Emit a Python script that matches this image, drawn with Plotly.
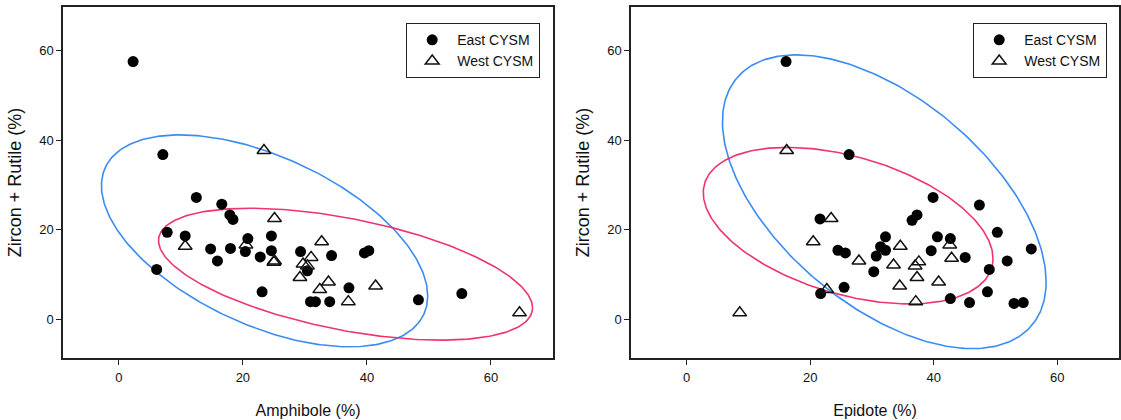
import numpy as np
import plotly.graph_objects as go

# ---------------- data ----------------
# Left panel: Amphibole (%) vs Zircon + Rutile (%)
east_amph_x = [2.3, 7.1, 12.5, 16.6, 17.9, 18.4, 7.8, 10.7, 14.8, 18.0, 20.8, 20.4, 15.9, 22.8,
               24.6, 24.6, 29.3, 30.4, 23.1, 6.1, 30.9, 31.7, 34.0, 34.3, 39.6, 40.3, 37.1, 48.3, 55.3]
east_amph_y = [57.6, 36.8, 27.2, 25.7, 23.3, 22.3, 19.4, 18.6, 15.7, 15.8, 18.0, 15.1, 13.0, 13.9,
               18.6, 15.3, 15.1, 10.8, 6.1, 11.1, 3.9, 3.9, 3.9, 14.2, 14.8, 15.3, 7.0, 4.3, 5.7]
west_amph_x = [23.4, 25.1, 10.7, 20.5, 25.1, 25.0, 32.7, 31.0, 29.7, 30.4, 29.2, 33.8, 32.4, 41.4, 37.0, 64.6]
west_amph_y = [37.7, 22.5, 16.3, 16.6, 13.0, 12.7, 17.3, 13.8, 12.3, 11.9, 9.3, 8.3, 6.6, 7.4, 3.9, 1.4]

# Right panel: Epidote (%) vs Zircon + Rutile (%)
east_epi_x = [16.1, 26.3, 39.9, 47.4, 37.3, 36.5, 21.6, 50.3, 32.2, 40.6, 42.7, 55.8, 24.5, 25.7,
              31.4, 32.2, 30.7, 39.6, 45.1, 51.9, 30.3, 49.0, 25.5, 21.7, 48.7, 42.7, 45.8, 53.0, 54.5]
east_epi_y = [57.6, 36.8, 27.2, 25.5, 23.3, 22.1, 22.4, 19.4, 18.4, 18.4, 18.0, 15.7, 15.4, 14.8,
              16.2, 15.4, 14.1, 15.3, 13.8, 13.0, 10.6, 11.1, 7.1, 5.7, 6.1, 4.6, 3.7, 3.5, 3.7]
west_epi_x = [16.2, 23.4, 20.5, 34.6, 42.6, 42.9, 27.9, 33.5, 37.6, 37.0, 37.3, 34.5, 40.8, 22.7, 37.1, 8.6]
west_epi_y = [37.7, 22.5, 17.3, 16.3, 16.6, 13.6, 13.0, 12.1, 12.8, 11.9, 9.3, 7.4, 8.3, 6.6, 3.9, 1.4]

# Ellipses: [centre x, centre y, half-range x, half-range y, correlation]
ell_amph_east = [23.5, 17.5, 26.3, 23.7, -0.52]
ell_amph_west = [36.55, 10.05, 30.15, 14.75, -0.51]
ell_epi_east = [32.0, 26.25, 26.2, 32.85, -0.545]
ell_epi_west = [26.15, 20.9, 23.45, 17.5, -0.42]

series_names = ["East CYSM", "West CYSM"]
x_titles = ["Amphibole (%)", "Epidote (%)"]
y_title = "Zircon + Rutile (%)"
tick_vals = [0, 20, 40, 60]

# ---------------- styling ----------------
W, H = 1121, 420
FONT = "Arial, Liberation Sans, sans-serif"
BLUE = "#3a8cf2"
RED = "#f0346c"


def ellipse(p, n=300):
    cx, cy, rx, ry, rho = p
    t = np.linspace(0, 2 * np.pi, n)
    phi = np.arccos(rho)
    return cx + rx * np.cos(t), cy + ry * np.cos(t - phi)


fig = go.Figure()

panels = [
    ("x", "y", "legend", east_amph_x, east_amph_y, west_amph_x, west_amph_y, ell_amph_east, ell_amph_west),
    ("x2", "y2", "legend2", east_epi_x, east_epi_y, west_epi_x, west_epi_y, ell_epi_east, ell_epi_west),
]

for xa, ya, lg, ex, ey, wx, wy, e_east, e_west in panels:
    for p, col in ((e_east, BLUE), (e_west, RED)):
        xs, ys = ellipse(p)
        fig.add_trace(go.Scatter(x=xs, y=ys, mode="lines", line=dict(color=col, width=1.6),
                                 xaxis=xa, yaxis=ya, showlegend=False, hoverinfo="skip"))
    fig.add_trace(go.Scatter(x=ex, y=ey, mode="markers", name=series_names[0],
                             marker=dict(symbol="circle", size=11, color="black"),
                             xaxis=xa, yaxis=ya, legend=lg))
    fig.add_trace(go.Scatter(x=wx, y=wy, mode="markers", name=series_names[1],
                             marker=dict(symbol="triangle-up-open", size=12, color="#111",
                                         line=dict(width=1.5)),
                             xaxis=xa, yaxis=ya, legend=lg))

L1, R1 = 63, 553
L2, R2 = 631, 1119
TOP, BOT = 7, 358

axis_common = dict(showgrid=False, zeroline=False, showline=True, linecolor="#222", linewidth=1.5,
                   mirror=True, ticks="outside", ticklen=5, tickwidth=1, tickcolor="#222",
                   tickvals=tick_vals, tickfont=dict(family=FONT, size=13, color="#111"))

xrange = [-9, 70]
yrange = [-8.7, 69.8]

xt = dict(font=dict(family=FONT, size=16), standoff=20)
yt = dict(text=y_title, font=dict(family=FONT, size=18), standoff=13)

fig.update_layout(
    width=W, height=H,
    margin=dict(l=0, r=0, t=0, b=0),
    paper_bgcolor="white", plot_bgcolor="white",
    font=dict(family=FONT, color="#111"),
    xaxis=dict(domain=[L1 / W, R1 / W], range=xrange, anchor="y", ticklabelstandoff=2,
               title=dict(text=x_titles[0], **xt), **axis_common),
    yaxis=dict(domain=[1 - BOT / H, 1 - TOP / H], range=yrange, anchor="x",
               title=yt, **axis_common),
    xaxis2=dict(domain=[L2 / W, R2 / W], range=xrange, anchor="y2", ticklabelstandoff=2,
                title=dict(text=x_titles[1], **xt), **axis_common),
    yaxis2=dict(domain=[1 - BOT / H, 1 - TOP / H], range=yrange, anchor="x2",
                title=yt, **axis_common),
    legend=dict(x=540 / W, xanchor="right", y=1 - 23 / H, yanchor="top",
                bgcolor="white", bordercolor="#222", borderwidth=1.2,
                font=dict(family=FONT, size=14, color="#111"), itemwidth=40,
                tracegroupgap=0),
    legend2=dict(x=1107 / W, xanchor="right", y=1 - 23 / H, yanchor="top",
                 bgcolor="white", bordercolor="#222", borderwidth=1.2,
                 font=dict(family=FONT, size=14, color="#111"), itemwidth=40,
                 tracegroupgap=0),
    showlegend=True,
)

fig.write_html("out.html", config={"displayModeBar": False},
               post_script="document.body.style.margin='0';document.body.style.overflow='hidden';")
